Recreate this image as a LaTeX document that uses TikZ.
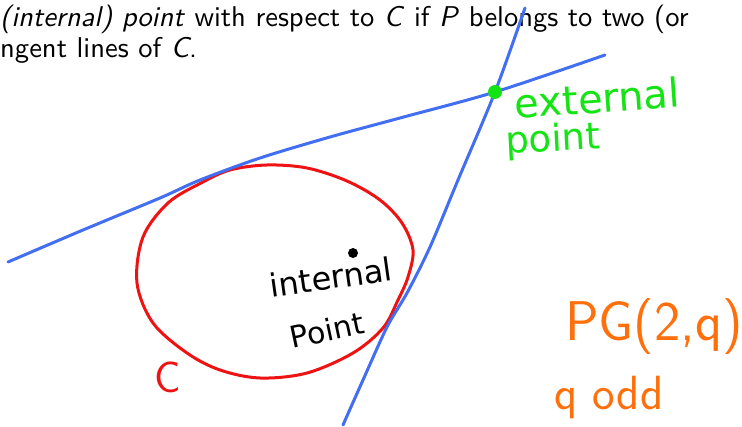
\documentclass[tikz,border=0pt]{standalone}
\usepackage{fontspec}
\newfontfamily\topfont{lmsans10-regular.otf}[ItalicFont=lmsans10-oblique.otf]
\newfontfamily\handfont{DejaVu Sans}
\definecolor{penblue}{RGB}{66,110,242}
\definecolor{pengreen}{RGB}{20,228,20}
\definecolor{penred}{RGB}{238,18,18}
\definecolor{penorange}{RGB}{255,112,12}
\begin{document}
\begin{tikzpicture}[x=1pt,y=-1pt,
  pen/.style={line width=3pt, line cap=round, line join=round},
  topline/.style={anchor=base west, inner sep=0pt, font=\topfont\fontsize{28.6}{31}\selectfont},
  hand/.style={inner sep=0pt, font=\handfont\fontsize{#1}{#1}\selectfont}]
\useasboundingbox (0,0) rectangle (742,427);
% top text
\node[topline] (l1) at (0,27) {\textit{(internal) point} with respect to \textit{C} if \textit{P} belongs to two (or};
\node[topline] (l2) at (0,58) {ngent lines of \textit{C}.};
% conic C
\draw[pen,penred] plot[smooth cycle, tension=0.55] coordinates {
 (267,165) (307,168) (347,181) (380,200) (402,223) (413,250) (408,277)
 (398,300) (383,328) (353,353) (307,373) (260,378) (220,370) (187,353)
 (153,323) (137,283) (143,237) (168,203) (201,183) (230,170)};
% external point
\coordinate (P) at (495,92);
% tangent lines
\draw[pen,penblue] plot[smooth, tension=0.5] coordinates {
 (8,262) (83,230) (160,198) (200,180) (260,158) (330,137) (400,118) (P) (605,55)};
\draw[pen,penblue] plot[smooth, tension=0.5] coordinates {
 (525,8) (P) (458,180) (430,247) (407,293) (387,327) (363,380) (343,425)};
\fill[pengreen] (P) circle (7);
% internal point
\fill[black] (353,253) circle (5) coordinate (I);
\node[hand=32, rotate=8] (intl) at (331,277) {internal};
\node[hand=30, rotate=12] (intp) at (327,330) {Point};
\node[hand=40, rotate=4, text=pengreen] (extl) at (597,98) {external};
\node[hand=37, rotate=3, text=pengreen] (extp) at (553,141) {point};
\node[text=penred, inner sep=0pt, font=\sffamily\fontsize{44}{44}\selectfont] (cname) at (168,377) {C};
\node[text=penorange, inner sep=0pt, font=\sffamily\fontsize{56}{56}\selectfont] (pg) at (654,327) {PG(2,q)};
\node[text=penorange, inner sep=0pt, font=\sffamily\fontsize{48}{48}\selectfont] (qodd) at (609,398) {q odd};
\end{tikzpicture}
\end{document}
